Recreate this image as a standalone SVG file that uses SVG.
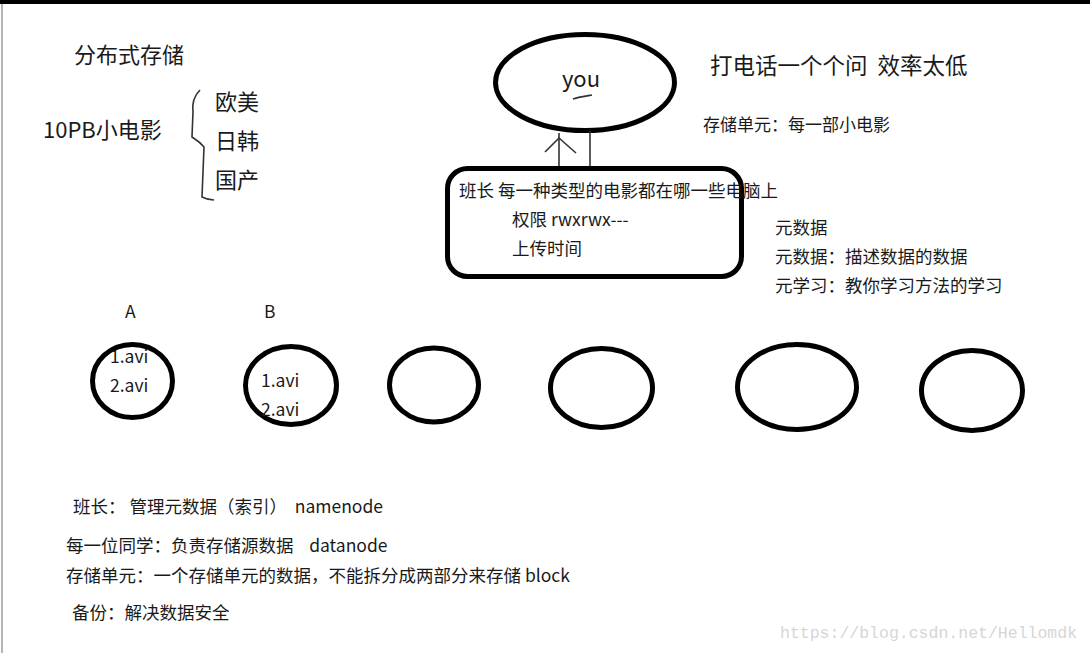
<svg xmlns="http://www.w3.org/2000/svg" width="1090" height="653" viewBox="0 0 1090 653">
  <style>
    .t { font-family: "Noto Sans CJK SC", "Noto Sans", sans-serif; fill: #1a1a1a; white-space: pre; }
    .big { font-size: 22px; }
    .mid { font-size: 17.5px; }
    .node { fill: none; stroke: #000; stroke-width: 5; }
    .thin { fill: none; stroke: #333; stroke-width: 1.6; }
    .wm { font-family: "Liberation Mono", "DejaVu Sans Mono", monospace; font-size: 16.5px; fill: #d6d6d6; }
  </style>
  <rect x="0" y="0" width="1090" height="653" fill="#fff"/>
  <rect x="0" y="0" width="1090" height="4" fill="#000"/>
  <rect x="1" y="4" width="2" height="649" fill="#b4b4b4"/>

  <g id="title">
    <text class="t big" x="74" y="63">分布式存储</text>
  </g>
  <g id="movies">
    <text class="t big" x="43" y="138">10PB小电影</text>
    <path class="thin" d="M200,90 C194,96 192,104 193,112 L192,137 C195,139 199,141 204,147 L202,197 C206,199 209,200 214,200"/>
    <text class="t big" x="215" y="110">欧美</text>
    <text class="t big" x="215" y="149">日韩</text>
    <text class="t big" x="215" y="188">国产</text>
  </g>

  <g id="you">
    <ellipse class="node" cx="585" cy="82.5" rx="89.5" ry="48"/>
    <text class="t big" x="562" y="87">you</text>
    <path class="thin" d="M573,99 C579,97 586,96 592,95"/>
  </g>

  <g id="connectors">
    <line class="thin" x1="559" y1="133" x2="559" y2="168"/>
    <line class="thin" x1="590" y1="131" x2="590" y2="168"/>
    <polyline class="thin" points="545,152 559,138 576,153"/>
  </g>

  <g id="namenode-box">
    <rect class="node" x="447.5" y="168.5" width="294" height="108" rx="20" ry="20"/>
    <text class="t mid" x="459" y="197">班长 每一种类型的电影都在哪一些电脑上</text>
    <text class="t mid" x="512" y="226">权限 rwxrwx---</text>
    <text class="t mid" x="512" y="255">上传时间</text>
  </g>

  <g id="notes-right">
    <text class="t" style="font-size:22.5px" x="710" y="74">打电话一个个问  效率太低</text>
    <text class="t" style="font-size:17px" x="703" y="131">存储单元：每一部小电影</text>
    <text class="t mid" x="775" y="234">元数据</text>
    <text class="t mid" x="775" y="263">元数据：描述数据的数据</text>
    <text class="t mid" x="775" y="292">元学习：教你学习方法的学习</text>
  </g>

  <g id="node-A">
    <text class="t mid" x="125" y="318">A</text>
    <ellipse class="node" cx="132.5" cy="381" rx="40" ry="36.5"/>
    <text class="t mid" x="110" y="363">1.avi</text>
    <text class="t mid" x="110" y="392">2.avi</text>
  </g>
  <g id="node-B">
    <text class="t mid" x="264" y="318">B</text>
    <ellipse class="node" cx="291" cy="385.5" rx="45.5" ry="39"/>
    <text class="t mid" x="261" y="387">1.avi</text>
    <text class="t mid" x="261" y="416">2.avi</text>
  </g>
  <g id="node-C">
    <ellipse class="node" cx="434" cy="385" rx="44.5" ry="37"/>
  </g>
  <g id="node-D">
    <ellipse class="node" cx="601.5" cy="388" rx="51" ry="39.5"/>
  </g>
  <g id="node-E">
    <ellipse class="node" cx="797" cy="387" rx="59.5" ry="42.5"/>
  </g>
  <g id="node-F">
    <ellipse class="node" cx="972" cy="390.5" rx="50.5" ry="40"/>
  </g>

  <g id="notes-bottom">
    <text class="t mid" x="73" y="513">班长： 管理元数据（索引）  namenode</text>
    <text class="t mid" x="66" y="552">每一位同学：负责存储源数据    datanode</text>
    <text class="t mid" x="66" y="582">存储单元：一个存储单元的数据，不能拆分成两部分来存储 block</text>
    <text class="t mid" x="72" y="619">备份：解决数据安全</text>
  </g>

  <text class="wm" x="780" y="638">https://blog.csdn.net/Hellomdk</text>
</svg>
